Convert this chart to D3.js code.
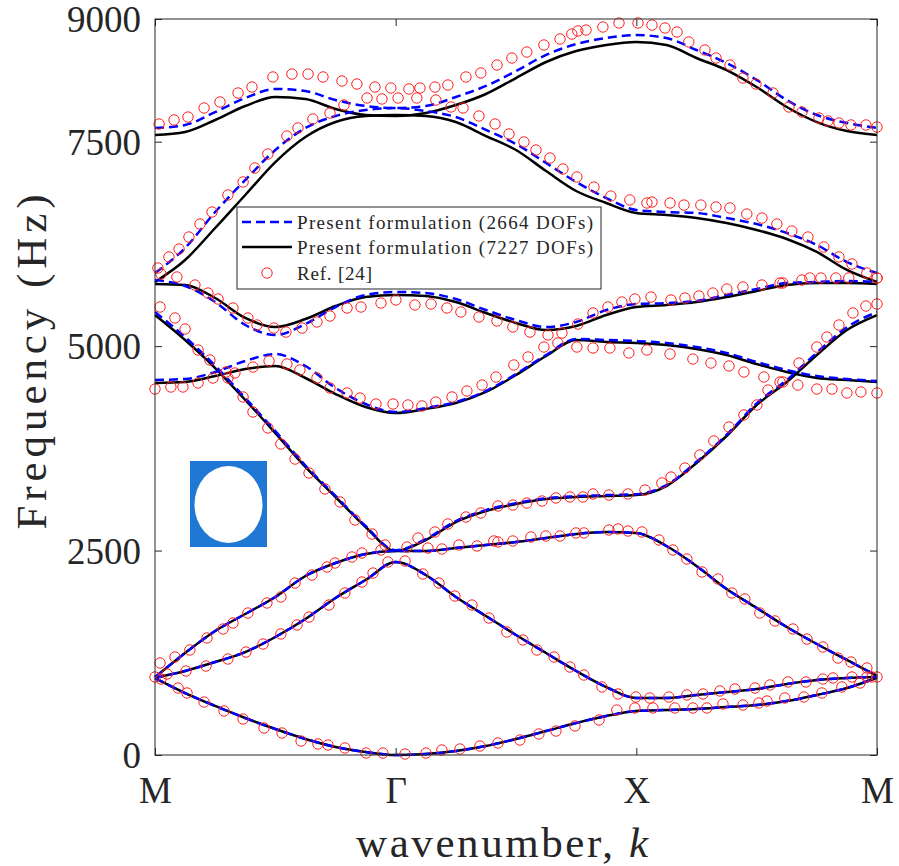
<!DOCTYPE html>
<html>
<head>
<meta charset="utf-8">
<script src="https://cdn.jsdelivr.net/npm/d3@7"></script>
<style>
body{margin:0;background:#fff;}
svg text{font-family:"Liberation Serif","Times New Roman",serif;fill:#262626;}
</style>
</head>
<body>
<svg id="chart" width="899" height="866"></svg>
<script>
// k path positions: M=0, Gamma=1, X=2, M=3
var kGrid = [0,0.125,0.25,0.375,0.5,0.625,0.75,0.875,1,1.125,1.25,1.375,1.5,1.625,1.75,1.875,2,2.125,2.25,2.375,2.5,2.625,2.75,2.875,3];
var kTicks = [0,1,2,3];
var kLabels = ["M","Γ","X","M"];
var freqTicks = [0,2500,5000,7500,9000];

// present formulation, 7227 DOFs (solid black), Hz
var fine_b1 = [940,758,600,452,318,196,98,37,0,12,49,110,196,293,391,477,538,550,562,587,611,660,734,819,945];
var fine_b2 = [945,1027,1137,1259,1443,1663,1920,2140,2360,2201,1932,1700,1467,1247,1027,831,697,697,734,770,807,868,917,942,954];
var fine_b3 = [950,1247,1516,1724,1932,2189,2348,2458,2495,2495,2531,2568,2605,2653,2702,2727,2715,2556,2311,2030,1798,1565,1357,1162,966];
var fine_b4 = [5380,5075,4732,4341,3937,3522,3155,2788,2495,2629,2849,2984,3069,3130,3155,3167,3179,3289,3571,3901,4280,4561,4891,5197,5380];
var fine_b5 = [4549,4561,4634,4720,4757,4610,4414,4255,4182,4231,4304,4439,4647,4879,5075,5050,5038,5013,4965,4891,4781,4683,4610,4586,4561];
var fine_b6 = [5760,5747,5588,5344,5234,5331,5490,5600,5625,5613,5539,5405,5283,5197,5246,5380,5478,5503,5539,5600,5674,5747,5772,5772,5760];
var fine_b7 = [5784,6053,6444,6848,7251,7557,7740,7814,7826,7814,7740,7569,7398,7141,6897,6750,6628,6603,6566,6505,6420,6310,6151,5931,5784];
var fine_b8 = [7581,7618,7765,7936,8046,8022,7899,7826,7814,7850,7948,8083,8278,8474,8608,8682,8718,8682,8523,8376,8168,7924,7740,7630,7581];

// present formulation, 2664 DOFs (dashed blue), Hz
var coarse_b1 = [940,758,600,452,318,196,98,37,0,12,49,110,196,293,391,477,538,550,562,587,611,660,734,819,945];
var coarse_b2 = [945,1027,1137,1259,1443,1663,1920,2140,2360,2201,1932,1700,1467,1247,1027,831,697,697,734,770,807,868,917,942,954];
var coarse_b3 = [950,1247,1516,1724,1932,2189,2348,2458,2495,2495,2531,2568,2605,2653,2702,2727,2715,2556,2311,2030,1798,1565,1357,1162,966];
var coarse_b4 = [5417,5110,4760,4365,3960,3540,3170,2800,2505,2640,2860,2995,3080,3140,3165,3178,3190,3300,3585,3915,4300,4585,4920,5230,5417];
var coarse_b5 = [4586,4598,4683,4818,4903,4757,4488,4292,4194,4243,4316,4451,4659,4891,5087,5075,5062,5038,4989,4916,4806,4708,4634,4598,4573];
var coarse_b6 = [5808,5735,5539,5258,5136,5270,5478,5625,5662,5649,5576,5441,5319,5234,5295,5441,5515,5527,5551,5625,5698,5772,5784,5796,5784];
var coarse_b7 = [5894,6200,6640,7031,7398,7667,7814,7887,7911,7875,7801,7643,7471,7239,7007,6811,6664,6640,6628,6566,6493,6383,6237,6028,5894];
var coarse_b8 = [7667,7704,7862,8034,8144,8119,8009,7936,7911,7936,8046,8181,8364,8560,8694,8767,8804,8767,8621,8462,8254,8009,7826,7728,7667];

// Ref. [24] points, [k, Hz]
var ref_b1 = [[0,954],[0.025,929],[0.096,819],[0.133,758],[0.204,648],[0.287,538],[0.366,440],[0.453,330],[0.528,269],[0.607,171],[0.677,135],[0.719,122],[0.789,86],[0.877,24],[0.947,24],[1.039,12],[1.126,24],[1.192,61],[1.267,73],[1.35,110],[1.425,147],[1.516,183],[1.595,257],[1.666,293],[1.745,355],[1.845,428],[1.919,550],[1.994,575],[2.069,575],[2.16,575],[2.235,575],[2.293,575],[2.36,624],[2.443,611],[2.509,636],[2.543,660],[2.617,697],[2.696,709],[2.771,758],[2.854,832],[2.929,880],[2.979,954]];
var ref_b2 = [[0.05,990],[0.129,1027],[0.212,1088],[0.303,1174],[0.378,1259],[0.449,1357],[0.523,1480],[0.59,1590],[0.64,1687],[0.723,1834],[0.789,1981],[0.86,2115],[0.906,2225],[0.968,2360],[1.039,2372],[1.113,2213],[1.18,2103],[1.246,1944],[1.317,1834],[1.388,1675],[1.462,1504],[1.529,1406],[1.587,1284],[1.658,1198],[1.724,1076],[1.782,978],[1.857,832],[1.924,746],[1.998,709],[2.056,697],[2.135,709],[2.21,734],[2.277,746],[2.347,783],[2.41,807],[2.493,819],[2.555,856],[2.63,893],[2.705,893],[2.775,929],[2.817,942],[2.896,954],[2.958,954]];
var ref_b3 = [[0.021,1125],[0.083,1198],[0.145,1284],[0.216,1431],[0.283,1541],[0.324,1614],[0.386,1736],[0.465,1859],[0.523,1932],[0.582,2103],[0.652,2201],[0.715,2299],[0.748,2348],[0.818,2421],[0.86,2470],[0.939,2507],[1.047,2543],[1.134,2531],[1.192,2519],[1.263,2568],[1.338,2556],[1.408,2617],[1.425,2605],[1.487,2617],[1.562,2666],[1.624,2678],[1.683,2678],[1.749,2715],[1.782,2715],[1.886,2751],[1.924,2764],[1.965,2739],[2.023,2727],[2.094,2629],[2.152,2507],[2.21,2397],[2.273,2238],[2.339,2152],[2.397,1981],[2.451,1908],[2.513,1736],[2.576,1639],[2.651,1541],[2.709,1418],[2.775,1321],[2.838,1186],[2.892,1137],[2.958,1064],[3,954]];
var ref_b4 = [[0.021,5478],[0.083,5344],[0.125,5209],[0.179,4952],[0.228,4830],[0.295,4683],[0.366,4378],[0.407,4194],[0.469,3999],[0.523,3803],[0.582,3619],[0.64,3448],[0.706,3253],[0.769,3094],[0.831,2874],[0.902,2702],[0.956,2568],[1.093,2653],[1.163,2727],[1.217,2825],[1.292,2910],[1.354,2959],[1.425,3045],[1.487,3057],[1.545,3081],[1.608,3106],[1.666,3143],[1.724,3155],[1.778,3155],[1.82,3192],[1.886,3179],[1.965,3192],[2.036,3240],[2.106,3326],[2.144,3399],[2.202,3509],[2.264,3668],[2.322,3840],[2.385,4011],[2.447,4158],[2.501,4280],[2.547,4463],[2.609,4561],[2.676,4793],[2.75,4989],[2.792,5111],[2.842,5258],[2.9,5405],[2.954,5490],[3,5515]];
var ref_b5 = [[0,4475],[0.066,4500],[0.116,4500],[0.179,4549],[0.241,4610],[0.303,4610],[0.332,4671],[0.407,4744],[0.474,4818],[0.548,4781],[0.602,4708],[0.673,4610],[0.727,4488],[0.798,4427],[0.852,4365],[0.918,4292],[0.989,4292],[1.051,4280],[1.109,4268],[1.167,4316],[1.234,4378],[1.296,4451],[1.359,4524],[1.417,4622],[1.491,4769],[1.55,4867],[1.616,4989],[1.674,5038],[1.753,4989],[1.82,4977],[1.89,4977],[1.969,4916],[2.044,4952],[2.14,4903],[2.235,4842],[2.31,4793],[2.385,4757],[2.447,4683],[2.53,4622],[2.597,4561],[2.671,4524],[2.75,4475],[2.813,4475],[2.875,4427],[2.933,4439],[3,4427]];
var ref_b6 = [[0.025,5882],[0.091,5845],[0.166,5747],[0.22,5649],[0.262,5576],[0.324,5466],[0.386,5344],[0.424,5258],[0.494,5221],[0.544,5172],[0.611,5221],[0.673,5295],[0.727,5368],[0.798,5466],[0.856,5478],[0.939,5527],[1.001,5564],[1.08,5503],[1.147,5515],[1.213,5466],[1.271,5417],[1.346,5356],[1.421,5307],[1.487,5234],[1.558,5172],[1.633,5136],[1.691,5160],[1.757,5270],[1.82,5405],[1.882,5478],[1.94,5539],[1.994,5576],[2.061,5600],[2.144,5564],[2.202,5588],[2.26,5613],[2.318,5649],[2.376,5698],[2.443,5723],[2.522,5747],[2.597,5772],[2.609,5772],[2.688,5808],[2.721,5833],[2.767,5833],[2.829,5833],[2.883,5833],[3,5833]];
var ref_b7 = [[0.012,5955],[0.058,6090],[0.1,6187],[0.141,6334],[0.187,6493],[0.237,6640],[0.303,6848],[0.366,7007],[0.415,7178],[0.469,7349],[0.548,7569],[0.594,7667],[0.656,7777],[0.727,7850],[0.785,7948],[0.881,8034],[0.943,8022],[1.01,8034],[1.088,8034],[1.167,8009],[1.23,7924],[1.28,7912],[1.346,7814],[1.413,7716],[1.471,7594],[1.533,7496],[1.583,7398],[1.641,7300],[1.695,7166],[1.753,7068],[1.824,6945],[1.894,6835],[1.973,6787],[2.044,6750],[2.065,6762],[2.14,6750],[2.198,6725],[2.268,6725],[2.331,6701],[2.389,6689],[2.459,6615],[2.522,6566],[2.584,6493],[2.646,6407],[2.713,6334],[2.779,6212],[2.842,6090],[2.896,6004],[2.958,5894],[3,5833]];
var ref_b8 = [[0.017,7716],[0.079,7765],[0.137,7801],[0.204,7912],[0.27,7985],[0.345,8095],[0.403,8168],[0.49,8291],[0.569,8327],[0.636,8327],[0.698,8291],[0.777,8242],[0.839,8205],[0.914,8168],[0.98,8156],[1.055,8144],[1.101,8156],[1.163,8168],[1.217,8193],[1.292,8291],[1.354,8340],[1.421,8437],[1.483,8523],[1.545,8596],[1.616,8682],[1.683,8755],[1.732,8816],[1.757,8853],[1.791,8865],[1.861,8902],[1.928,8951],[2.007,8951],[2.065,8926],[2.119,8890],[2.169,8841],[2.218,8719],[2.285,8621],[2.331,8523],[2.389,8437],[2.443,8278],[2.497,8205],[2.568,8095],[2.634,7924],[2.688,7863],[2.759,7789],[2.796,7753],[2.842,7728],[2.892,7704],[2.954,7704],[3,7679]];

var fineBands = [fine_b1,fine_b2,fine_b3,fine_b4,fine_b5,fine_b6,fine_b7,fine_b8];
var coarseBands = [coarse_b1,coarse_b2,coarse_b3,coarse_b4,coarse_b5,coarse_b6,coarse_b7,coarse_b8];
var refBands = [ref_b1,ref_b2,ref_b3,ref_b4,ref_b5,ref_b6,ref_b7,ref_b8];

var svg = d3.select("#chart");
var margin = {top: 19, right: 22, bottom: 111, left: 155};
var width = 899 - margin.left - margin.right;
var height = 866 - margin.top - margin.bottom;

var x = d3.scaleLinear().domain([0,3]).range([0,width]);
var y = d3.scaleLinear().domain([0,9000]).range([height,0]);

var g = svg.append("g").attr("transform","translate(" + margin.left + "," + margin.top + ")");

var line = d3.line()
	.x(function(d,i){ return x(kGrid[i]); })
	.y(function(d){ return y(d); })
	.curve(d3.curveMonotoneX);

// black solid
g.append("g").selectAll("path")
	.data(fineBands)
	.enter().append("path")
		.attr("d", line)
		.attr("fill","none")
		.attr("stroke","#000")
		.attr("stroke-width",2.5);

// blue dashed
g.append("g").selectAll("path")
	.data(coarseBands)
	.enter().append("path")
		.attr("d", line)
		.attr("fill","none")
		.attr("stroke","#0000ff")
		.attr("stroke-width",2.5)
		.attr("stroke-dasharray","9,5");

// ref circles
var allRef = [];
refBands.forEach(function(b){ b.forEach(function(p){ allRef.push(p); }); });
g.append("g").selectAll("circle")
	.data(allRef)
	.enter().append("circle")
		.attr("cx", function(d){ return x(d[0]); })
		.attr("cy", function(d){ return y(d[1]); })
		.attr("r",5.2)
		.attr("fill","none")
		.attr("stroke","#ff2020")
		.attr("stroke-width",1);

// box + axes
g.append("rect")
	.attr("width",width).attr("height",height)
	.attr("fill","none").attr("stroke","#262626").attr("stroke-width",1);

g.append("g")
	.attr("class","axis axis-x")
	.attr("transform","translate(0," + height + ")")
	.call(d3.axisBottom(x).tickValues(kTicks).tickFormat(function(d,i){ return kLabels[i]; }).tickSizeInner(-7).tickSizeOuter(0).tickPadding(22));
g.append("g")
	.call(d3.axisTop(x).tickValues(kTicks).tickFormat("").tickSizeInner(-7).tickSizeOuter(0));
g.append("g")
	.attr("class","axis axis-y")
	.call(d3.axisLeft(y).tickValues(freqTicks).tickFormat(d3.format("d")).tickSizeInner(-7).tickSizeOuter(0).tickPadding(14));
g.append("g")
	.attr("transform","translate(" + width + ",0)")
	.call(d3.axisRight(y).tickValues(freqTicks).tickFormat("").tickSizeInner(-7).tickSizeOuter(0));

g.selectAll(".domain").remove();
g.selectAll(".tick line").attr("stroke","#262626");
g.selectAll(".tick text").attr("font-size",37).attr("font-family",null).attr("fill","#262626");
g.selectAll(".axis-y .tick text").attr("dy","0.34em");

// axis titles
svg.append("text")
	.attr("x", 502)
	.attr("y", 857)
	.attr("text-anchor","middle")
	.attr("font-size",43)
	.attr("textLength",292)
	.attr("lengthAdjust","spacing")
	.html('wavenumber, <tspan font-style="italic">k</tspan>');

svg.append("text")
	.attr("transform","translate(46,362) rotate(-90)")
	.attr("text-anchor","middle")
	.attr("font-size",43)
	.attr("textLength",335)
	.attr("lengthAdjust","spacing")
	.text("Frequency (Hz)");

// unit cell inset
svg.append("rect")
	.attr("x",190).attr("y",461).attr("width",77).attr("height",86)
	.attr("fill","#1f78d4");
svg.append("ellipse")
	.attr("cx",228.5).attr("cy",504.5).attr("rx",34).attr("ry",38.5)
	.attr("fill","#fff");

// legend
var legend = svg.append("g").attr("class","legend").attr("transform","translate(237,207)");
legend.append("rect")
	.attr("width",364).attr("height",82)
	.attr("fill","#fff").attr("stroke","#262626").attr("stroke-width",1);
var legItems = ["Present formulation (2664 DOFs)","Present formulation (7227 DOFs)","Ref. [24]"];
var legWidths = [296,296,75];
legend.append("line").attr("x1",5).attr("x2",55).attr("y1",15).attr("y2",15)
	.attr("stroke","#0000ff").attr("stroke-width",2.5).attr("stroke-dasharray","9,5");
legend.append("line").attr("x1",5).attr("x2",55).attr("y1",40).attr("y2",40)
	.attr("stroke","#000").attr("stroke-width",2.5);
legend.append("circle").attr("cx",30).attr("cy",66).attr("r",5.2)
	.attr("fill","none").attr("stroke","#ff2020").attr("stroke-width",1);
legend.selectAll("text")
	.data(legItems)
	.enter().append("text")
		.attr("x",60)
		.attr("y",function(d,i){ return 15 + i*25.5; })
		.attr("dy","0.35em")
		.attr("font-size",19)
		.attr("textLength",function(d,i){ return legWidths[i]; })
		.attr("lengthAdjust","spacing")
		.text(function(d){ return d; });
</script>
</body>
</html>
